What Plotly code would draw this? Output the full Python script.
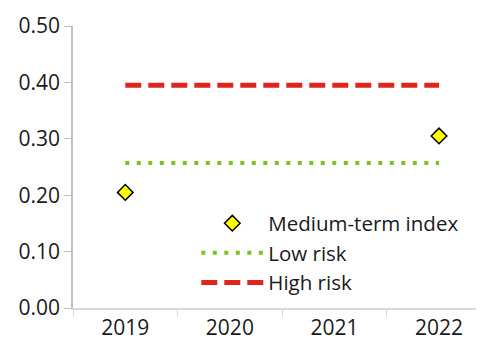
import plotly.graph_objects as go

years = ['2019', '2020', '2021', '2022']
index_vals = [0.205, None, None, 0.305]
low_risk = [0.257, 0.257, 0.257, 0.257]
high_risk = [0.395, 0.395, 0.395, 0.395]
y_ticks = [0.0, 0.1, 0.2, 0.3, 0.4, 0.5]

fig = go.Figure()
fig.add_trace(go.Scatter(x=years, y=high_risk, mode='lines', name='High risk',
                         line=dict(color='#e0261c', width=5, dash='16px,7px'), legendrank=3))
fig.add_trace(go.Scatter(x=years, y=low_risk, mode='lines', name='Low risk',
                         line=dict(color='#7dc21e', width=4, dash='4px,7.5px'), legendrank=2))
fig.add_trace(go.Scatter(x=years, y=index_vals, mode='markers', name='Medium-term index',
                         marker=dict(symbol='diamond', size=12, color='#ffff00',
                                     line=dict(color='black', width=1.5)), legendrank=1))

# page body has an 8px margin, so the figure is a bit smaller than the window
fig.update_layout(
    width=476, height=344,
    margin=dict(l=65, r=0, t=18, b=44),
    paper_bgcolor='white', plot_bgcolor='white',
    font=dict(family='Open Sans', size=21, color='#1a1a1a'),
    showlegend=True,
    legend=dict(x=0.3, y=0.02, xanchor='left', yanchor='bottom',
                bgcolor='rgba(0,0,0,0)', font=dict(size=20.5), tracegroupgap=0,
                itemwidth=62),
)
fig.update_xaxes(type='category', range=[-0.5, 3.43], tickson='boundaries',
                 ticks='outside', ticklen=7, tickcolor='#d9d9d9',
                 showline=True, linecolor='#d9d9d9', linewidth=1.5,
                 showgrid=False, zeroline=False, automargin=False)
fig.update_yaxes(range=[0, 0.5], tickvals=y_ticks, tickformat='.2f',
                 ticks='outside', ticklen=7, tickcolor='#bfbfbf',
                 showline=True, linecolor='#bfbfbf', linewidth=1.5,
                 showgrid=False, zeroline=False, automargin=False)

fig.write_html("out.html")
